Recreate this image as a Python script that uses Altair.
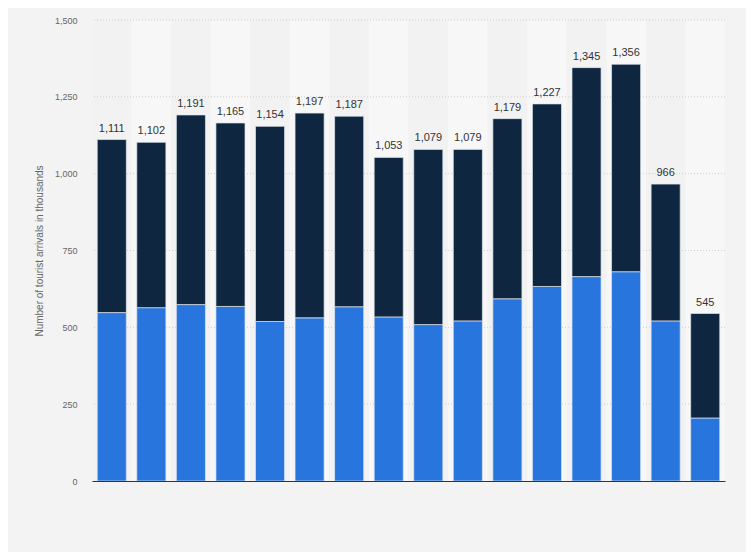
import altair as alt
import pandas as pd

categories = [str(y) for y in range(2005, 2021)]
totals = [1111, 1102, 1191, 1165, 1154, 1197, 1187, 1053, 1079, 1079, 1179, 1227, 1345, 1356, 966, 545]
lower = [548, 564, 574, 568, 519, 531, 567, 534, 509, 521, 593, 633, 665, 681, 521, 205]
series_names = ["Series 1", "Series 2"]
series_colors = ["#2876dd", "#0f2640"]
y_ticks = [0, 250, 500, 750, 1000, 1250, 1500]

upper = [t - l for t, l in zip(totals, lower)]

rows = []
for c, l, u in zip(categories, lower, upper):
    rows.append({"cat": c, "series": series_names[0], "value": l, "ord": 0})
    rows.append({"cat": c, "series": series_names[1], "value": u, "ord": 1})
df = pd.DataFrame(rows)

tot_df = pd.DataFrame({"cat": categories, "total": totals})
stripe_df = pd.DataFrame({
    "cat": categories,
    "top": [1500] * len(categories),
    "bot": [0] * len(categories),
    "shade": ["#f2f2f2" if i % 2 == 0 else "#f7f7f7" for i in range(len(categories))],
})
grid_df = pd.DataFrame({"tick": y_ticks[1:]})

FONT = "Liberation Sans"
xscale = alt.Scale(paddingInner=0, paddingOuter=0)
xenc = alt.X("cat:N", scale=xscale, sort=categories,
             axis=alt.Axis(title=None, labels=False, ticks=False, domain=True,
                           domainColor="#333333", domainWidth=1.2))
yscale = alt.Scale(domain=[0, 1500], nice=False)
yaxis = alt.Axis(title="Number of tourist arrivals in thousands", values=y_ticks,
                 labelExpr="format(datum.value, ',')", ticks=False, domain=False, labelPadding=15,
                 labelColor="#666666", labelFontSize=9, labelFont=FONT,
                 titleColor="#666666", titleFontSize=10, titleFont=FONT,
                 titleFontWeight="normal", titlePadding=10, grid=False)

stripes = alt.Chart(stripe_df).mark_rect().encode(
    x=xenc,
    y=alt.Y("top:Q", scale=yscale, axis=yaxis),
    y2="bot:Q",
    color=alt.Color("shade:N", scale=None, legend=None),
)

grid = alt.Chart(grid_df).mark_rule(color="#cfcfcf", strokeDash=[1, 2], strokeWidth=1).encode(
    y=alt.Y("tick:Q", scale=yscale, axis=yaxis),
)

bars = alt.Chart(df).mark_bar(width=alt.RelativeBandSize(0.735), stroke="#dfe6ee",
                              strokeWidth=0.7).encode(
    x=xenc,
    y=alt.Y("value:Q", stack="zero", scale=yscale, axis=yaxis),
    color=alt.Color("series:N", scale=alt.Scale(domain=series_names, range=series_colors), legend=None),
    order=alt.Order("ord:Q", sort="ascending"),
)

labels = alt.Chart(tot_df).mark_text(dy=-6, fontSize=11, color="#333333", font=FONT,
                                     baseline="bottom").encode(
    x=xenc,
    y=alt.Y("total:Q", scale=yscale, axis=yaxis),
    text=alt.Text("total:Q", format=","),
)

chart = alt.layer(stripes, grid, bars, labels).properties(
    width=633, height=461,
    background="#f3f3f3",
    autosize=alt.AutoSizeParams(type="none"),
    padding={"left": 84, "top": 12, "right": 21, "bottom": 71},
).configure_view(stroke=None)

chart.save("out.html", embed_options={"renderer": "svg", "actions": False})
